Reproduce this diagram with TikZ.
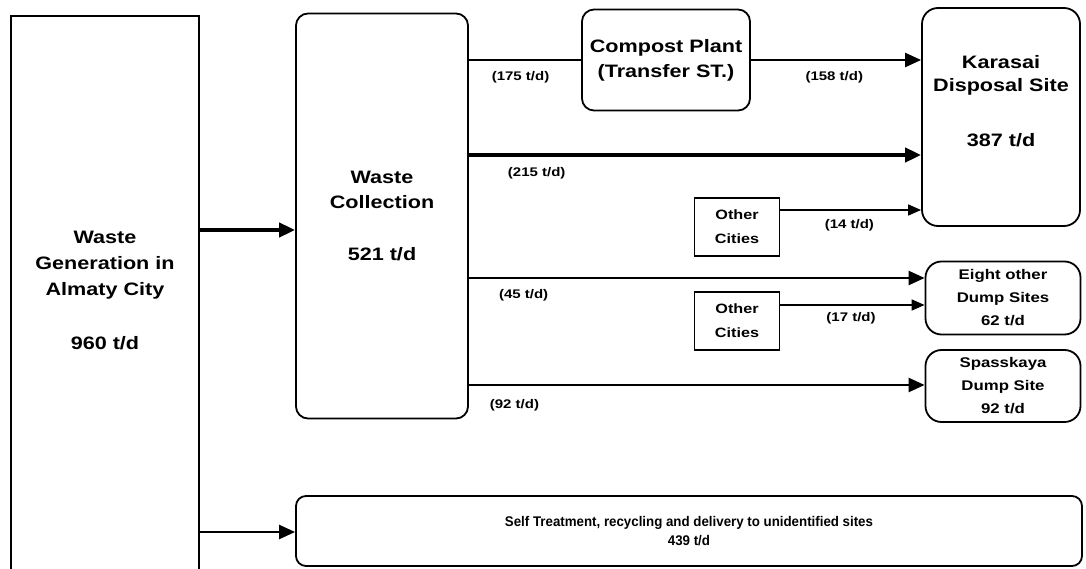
\documentclass[tikz,border=0pt]{standalone}
\usepackage{fontspec}
\setmainfont{Liberation Sans}[FakeStretch=1.2]
\newfontfamily\narrowsans{Liberation Sans}[FakeStretch=0.95]
\usetikzlibrary{arrows.meta,positioning}

\begin{document}
\begin{tikzpicture}[
	x=1pt, y=-1pt,
	box/.style={
		draw=black,
		line width=1.8pt,
		rounded corners=12pt,
		inner sep=0pt,
		align=center,
		font=\fontsize{18}{25}\selectfont\bfseries
	},
	boxtext/.style={
		align=center,
		inner sep=0pt,
		font=\fontsize{18}{26}\selectfont\bfseries
	},
	citybox/.style={
		box,
		rounded corners=0pt,
		font=\fontsize{13.5}{24}\selectfont\bfseries
	},
	dumpbox/.style={
		box,
		rounded corners=16pt,
		font=\fontsize{14}{23}\selectfont\bfseries
	},
	flow/.style={
		-{Triangle[length=16pt,width=14pt]},
		line width=2.4pt
	},
	heavyflow/.style={flow, line width=4pt},
	thinflow/.style={
		-{Triangle[length=13pt,width=11pt]},
		line width=1.4pt
	},
	qty/.style={
		font=\fontsize{12.5}{12}\selectfont\bfseries,
		inner sep=1pt
	}
]

\path[use as bounding box, fill=white] (0,0) rectangle (1086,569);

% sources and collection
\node[box, rounded corners=0pt, anchor=north,
	minimum width=188pt, minimum height=580pt] (gen) at (105,15) {};
\node[boxtext] (gentext) at (105,290)
	{Waste\\Generation in\\Almaty City\\[28pt]960 t/d};

\node[box, minimum width=172pt, minimum height=405pt] (coll) at (382,216)
	{Waste\\Collection\\[27pt]521 t/d};

\node[box, minimum width=168pt, minimum height=101pt] (compost) at (666,60)
	{Compost Plant\\(Transfer ST.)};

% destinations
\node[box, rounded corners=16pt, minimum width=158pt, minimum height=218pt] (karasai) at (1001,117) {};
\node[boxtext, font=\fontsize{18}{23}\selectfont\bfseries] (karasaitext) at (1001,101)
	{Karasai\\Disposal Site\\[32pt]387 t/d};

\node[dumpbox, minimum width=155pt, minimum height=73pt] (eight) at (1003,298)
	{Eight other\\Dump Sites\\62 t/d};

\node[dumpbox, minimum width=155pt, minimum height=72pt] (spass) at (1003,386)
	{Spasskaya\\Dump Site\\92 t/d};

\node[citybox, minimum width=85pt, minimum height=58pt] (other1) at (737,227)
	{Other\\Cities};

\node[citybox, minimum width=85pt, minimum height=58pt] (other2) at (737,321)
	{Other\\Cities};

\node[box, rounded corners=10pt, minimum width=786pt, minimum height=70pt,
	font=\narrowsans\fontsize{14}{19}\selectfont\bfseries] (self) at (689,531)
	{Self Treatment, recycling and delivery to unidentified sites\\439 t/d};

% flows
\draw[heavyflow] (gen.east |- 0,230) -- (coll.west |- 0,230);
\draw[flow] (gen.east |- 0,532) -- (self.west |- 0,532);

\draw[line width=2.4pt] (coll.east |- compost.west) -- node[qty, pos=.46, below=9pt] {(175 t/d)} (compost.west);
\draw[flow] (compost.east) -- node[qty, pos=.49, below=9pt] {(158 t/d)} (compost.east -| karasai.west);
\draw[heavyflow] (coll.east |- 0,155) -- node[qty, pos=.15, below=9pt] {(215 t/d)} (karasai.west |- 0,155);
\draw[thinflow] (other1.east |- 0,210) -- node[qty, pos=.49, below=8pt] {(14 t/d)} (karasai.west |- 0,210);
\draw[flow] (coll.east |- 0,278) -- node[qty, pos=.12, below=9pt] {(45 t/d)} (eight.west |- 0,278);
\draw[thinflow] (other2.east |- 0,305) -- node[qty, pos=.49, below=6pt] {(17 t/d)} (eight.west |- 0,305);
\draw[flow] (coll.east |- 0,385) -- node[qty, pos=.1, below=12pt] {(92 t/d)} (spass.west |- 0,385);

\end{tikzpicture}
\end{document}
